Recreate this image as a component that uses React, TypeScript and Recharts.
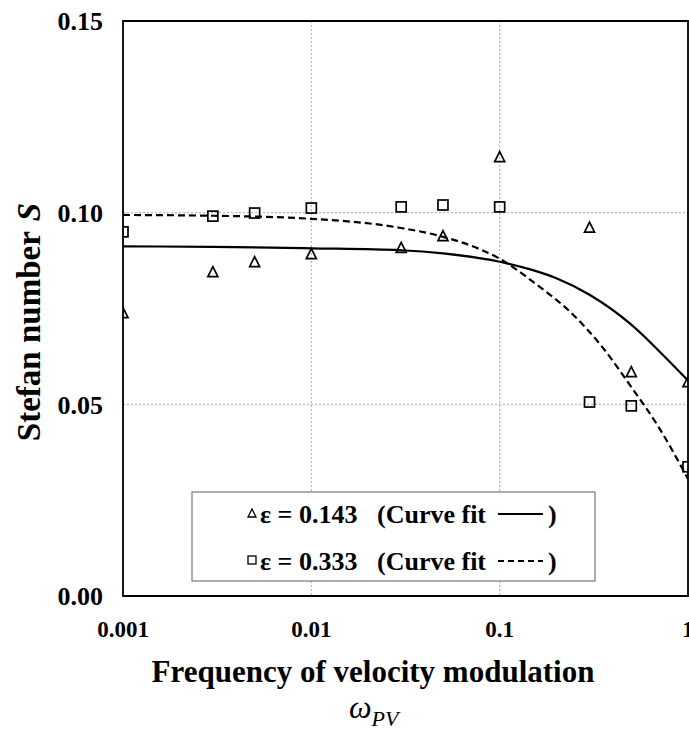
import React from "react";
import {
  ComposedChart,
  Line,
  Scatter,
  XAxis,
  YAxis,
  CartesianGrid,
  ReferenceArea,
  Customized,
} from "recharts";

// Measured data points (ω_PV, S)
const omegaPts = [0.001, 0.003, 0.005, 0.01, 0.03, 0.05, 0.1, 0.3, 0.5, 1];
const s143 = [0.0738, 0.0845, 0.0871, 0.0892, 0.0908, 0.0939, 0.1145, 0.0961, 0.0584, 0.0558];
const s333 = [0.0950, 0.0991, 0.0999, 0.1012, 0.1015, 0.1020, 0.1015, 0.0506, 0.0496, 0.0337];

// Curve fits
const fit143Omega = [0.001, 0.003, 0.01, 0.03, 0.05, 0.1, 0.15, 0.2, 0.3, 0.5, 0.75, 1];
const fit143S = [0.0912, 0.0911, 0.0907, 0.0902, 0.0894, 0.0872, 0.0850, 0.0829, 0.0786, 0.0708, 0.0625, 0.0562];
const fit333Omega = [0.001, 0.003, 0.01, 0.03, 0.05, 0.08, 0.1, 0.15, 0.25, 0.35, 0.5, 0.7, 1];
const fit333S = [0.0994, 0.0992, 0.0984, 0.0960, 0.0937, 0.0903, 0.0880, 0.0820, 0.0730, 0.0650, 0.0545, 0.0440, 0.0305];

const xTicks = [0.001, 0.01, 0.1, 1];
const xTickLabels = ["0.001", "0.01", "0.1", "1"];
const yTicks = [0, 0.05, 0.1, 0.15];

const pts143 = omegaPts.map((x, i) => ({ x, y: s143[i] }));
const pts333 = omegaPts.map((x, i) => ({ x, y: s333[i] }));
const fit143 = fit143Omega.map((x, i) => ({ x, y: fit143S[i] }));
const fit333 = fit333Omega.map((x, i) => ({ x, y: fit333S[i] }));

const FONT = "'Liberation Serif', 'Times New Roman', serif";

const Tri = (props: any) => {
  const { cx, cy } = props;
  if (cx == null || cy == null) return null;
  const h = 9;
  const w = 10;
  return (
    <polygon
      points={`${cx},${cy - h / 2 - 1} ${cx - w / 2},${cy + h / 2} ${cx + w / 2},${cy + h / 2}`}
      fill="none"
      stroke="#000"
      strokeWidth={1.7}
    />
  );
};

const Sq = (props: any) => {
  const { cx, cy } = props;
  if (cx == null || cy == null) return null;
  const s = 10;
  return (
    <rect x={cx - s / 2} y={cy - s / 2} width={s} height={s} fill="none" stroke="#000" strokeWidth={1.7} />
  );
};

const Overlay = () => (
  <g fontFamily={FONT} fill="#000">
    {/* Y axis title */}
    <text
      x={40}
      y={322}
      transform="rotate(-90 40 322)"
      textAnchor="middle"
      fontSize={33}
      fontWeight="bold"
    >
      Stefan number<tspan dx={10} fontStyle="italic">S</tspan>
    </text>
    {/* X axis title */}
    <text x={373} y={682} textAnchor="middle" fontSize={31} fontWeight="bold">
      Frequency of velocity modulation
    </text>
    <text x={349} y={718} fontSize={32} fontStyle="italic">
      ω<tspan fontSize={22} dy={8}>PV</tspan>
    </text>
    {/* Legend */}
    <rect x={192} y={492} width={403} height={89} fill="#fff" stroke="#777" strokeWidth={1.2} />
    <polygon points="252,509 248,517 256,517" fill="none" stroke="#000" strokeWidth={1.3} />
    <text x={260} y={523} fontSize={26} fontWeight="bold">ε = 0.143</text>
    <text x={377} y={523} fontSize={26} fontWeight="bold">(Curve fit</text>
    <line x1={498} y1={514} x2={543} y2={514} stroke="#000" strokeWidth={2.2} />
    <text x={548} y={523} fontSize={26} fontWeight="bold">)</text>
    <rect x={248} y={556} width={8} height={8} fill="none" stroke="#000" strokeWidth={1.3} />
    <text x={260} y={570} fontSize={26} fontWeight="bold">ε = 0.333</text>
    <text x={377} y={570} fontSize={26} fontWeight="bold">(Curve fit</text>
    <line x1={498} y1={561} x2={543} y2={561} stroke="#000" strokeWidth={2.2} strokeDasharray="6 4" />
    <text x={548} y={570} fontSize={26} fontWeight="bold">)</text>
  </g>
);

export default function App() {
  return (
    <div
      style={{
        position: "absolute",
        left: 0,
        top: 0,
        width: 689,
        height: 731,
        overflow: "hidden",
        background: "#fff",
      }}
    >
      <ComposedChart width={720} height={731} margin={{ top: 21, right: 32, bottom: 0, left: 0 }}>
        <CartesianGrid stroke="#aaa" strokeDasharray="2 2" strokeWidth={1} />
        <XAxis
          dataKey="x"
          type="number"
          scale="log"
          domain={[0.001, 1]}
          ticks={xTicks}
          allowDataOverflow
          height={135}
          tickLine={false}
          axisLine={false}
          tickSize={0}
          tickMargin={25}
          tickFormatter={(v: number) => xTickLabels[xTicks.indexOf(v)] ?? String(v)}
          tick={{ fontSize: 23, fontWeight: "bold", fill: "#000", fontFamily: FONT }}
        />
        <YAxis
          type="number"
          domain={[0, 0.15]}
          ticks={yTicks}
          allowDataOverflow
          width={123}
          tickLine={false}
          axisLine={false}
          tickSize={0}
          tickMargin={20}
          tickFormatter={(v: number) => v.toFixed(2)}
          tick={{ fontSize: 26, fontWeight: "bold", fill: "#000", fontFamily: FONT }}
        />
        <ReferenceArea x1={0.001} x2={1} y1={0} y2={0.15} fill="none" stroke="#000" strokeWidth={1.8} />
        <Line
          data={fit143}
          dataKey="y"
          type="monotone"
          stroke="#000"
          strokeWidth={2.2}
          dot={false}
          isAnimationActive={false}
        />
        <Line
          data={fit333}
          dataKey="y"
          type="monotone"
          stroke="#000"
          strokeWidth={2.2}
          strokeDasharray="7 4"
          dot={false}
          isAnimationActive={false}
        />
        <Scatter data={pts143} dataKey="y" shape={<Tri />} isAnimationActive={false} />
        <Scatter data={pts333} dataKey="y" shape={<Sq />} isAnimationActive={false} />
        <Customized component={Overlay} />
      </ComposedChart>
    </div>
  );
}
